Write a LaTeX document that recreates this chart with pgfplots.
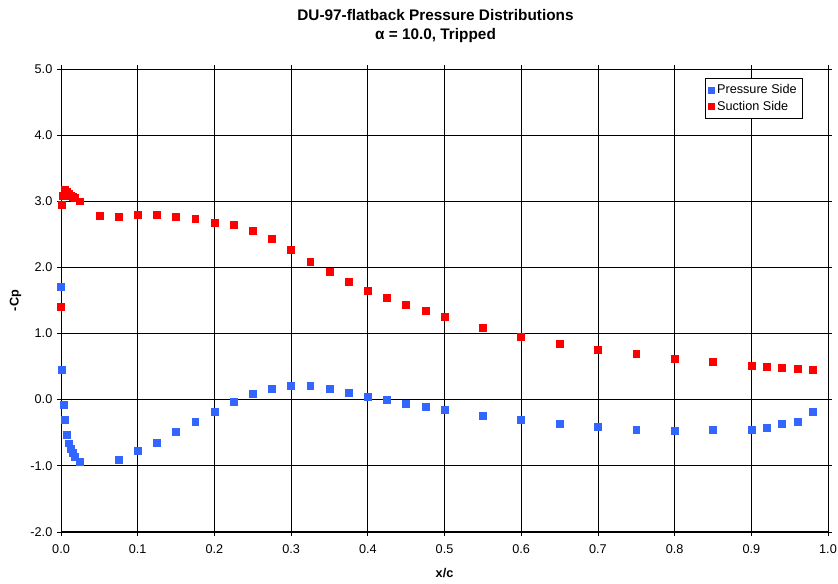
\documentclass[border=0pt]{standalone}
\usepackage{pgfplots}
\pgfplotsset{compat=1.18}
\usepackage{fontspec}
\setmainfont{Liberation Sans}
\definecolor{pblue}{RGB}{51,102,255}
\definecolor{sred}{RGB}{255,0,0}
\begin{document}
\begin{tikzpicture}
\begin{axis}[name=ax,
  scale only axis,
  width=575pt, height=347pt,
  xmin=0, xmax=1, ymin=-2, ymax=5,
  xtick={0,0.1,...,1.0}, ytick={-2,-1,...,5},
  grid=major, major grid style={black, line width=0.5pt},
  axis line style={black, line width=0.6pt},
  tick align=outside, tick style={black, line width=0.5pt}, major tick length=3pt,
  /pgf/number format/assume math mode=true,
  ticklabel style={font=\fontsize{9.5}{11}\selectfont},
  xticklabel style={yshift=-3pt, /pgf/number format/.cd, fixed, fixed zerofill, precision=1},
  yticklabel style={/pgf/number format/.cd, fixed, fixed zerofill, precision=1},
  xlabel={\textbf{x/c}}, ylabel={\textbf{-Cp}},
  label style={font=\fontsize{9.5}{11}\selectfont},
  xlabel style={yshift=-4pt},
  ylabel style={yshift=0pt},
  title={\textbf{DU-97-flatback Pressure Distributions}\\\textbf{α = 10.0, Tripped}},
  title style={font=\fontsize{11.5}{14.25}\selectfont, align=center, yshift=10.5pt, xshift=-6.75pt},
  legend style={at={(0.9674,0.9806)}, anchor=north east, draw=black, line width=0.5pt,
    font=\fontsize{9.5}{13.5}\selectfont, cells={anchor=west}, inner xsep=2.5pt, inner ysep=2.5pt},
  legend image code/.code={\draw[#1, mark size=2.3pt] plot coordinates {(0.02cm,0cm)};},
  legend cell align=left,
  clip=false,
]
\addplot[only marks, mark=square*, mark size=2.6pt, color=pblue, mark options={fill=pblue, draw=pblue}] coordinates {
(0,1.70) (0.0015,0.45) (0.003,-0.08) (0.005,-0.30) (0.0075,-0.53) (0.01,-0.66) (0.0125,-0.75) (0.015,-0.81) (0.0175,-0.86) (0.025,-0.94)
(0.075,-0.91) (0.1,-0.77) (0.125,-0.65) (0.15,-0.49) (0.175,-0.33) (0.2,-0.18) (0.225,-0.03) (0.25,0.09) (0.275,0.17) (0.3,0.21)
(0.325,0.21) (0.35,0.17) (0.375,0.11) (0.4,0.05) (0.425,0.00) (0.45,-0.06) (0.475,-0.11) (0.5,-0.16) (0.55,-0.24) (0.6,-0.31)
(0.65,-0.36) (0.7,-0.41) (0.75,-0.45) (0.8,-0.47) (0.85,-0.45) (0.9,-0.45) (0.92,-0.43) (0.94,-0.37) (0.96,-0.34) (0.98,-0.19)
};
\addlegendentry{Pressure Side}
\addplot[only marks, mark=square*, mark size=2.6pt, color=sred, mark options={fill=sred, draw=sred}] coordinates {
(0,1.41) (0.001,2.94) (0.0025,3.08) (0.005,3.17) (0.0075,3.15) (0.01,3.11) (0.0125,3.09) (0.015,3.07) (0.0175,3.05) (0.025,3.00)
(0.05,2.78) (0.075,2.77) (0.1,2.79) (0.125,2.80) (0.15,2.76) (0.175,2.74) (0.2,2.68) (0.225,2.64) (0.25,2.55) (0.275,2.43)
(0.3,2.26) (0.325,2.09) (0.35,1.93) (0.375,1.78) (0.4,1.65) (0.425,1.54) (0.45,1.44) (0.475,1.34) (0.5,1.25) (0.55,1.08)
(0.6,0.95) (0.65,0.84) (0.7,0.76) (0.75,0.69) (0.8,0.62) (0.85,0.57) (0.9,0.51) (0.92,0.50) (0.94,0.48) (0.96,0.46) (0.98,0.45)
};
\addlegendentry{Suction Side}
\end{axis}
\pgfresetboundingbox
\useasboundingbox ([xshift=-45.75pt,yshift=-39pt]ax.south west) rectangle ([xshift=7.5pt,yshift=51.75pt]ax.north east);
\end{tikzpicture}
\end{document}
